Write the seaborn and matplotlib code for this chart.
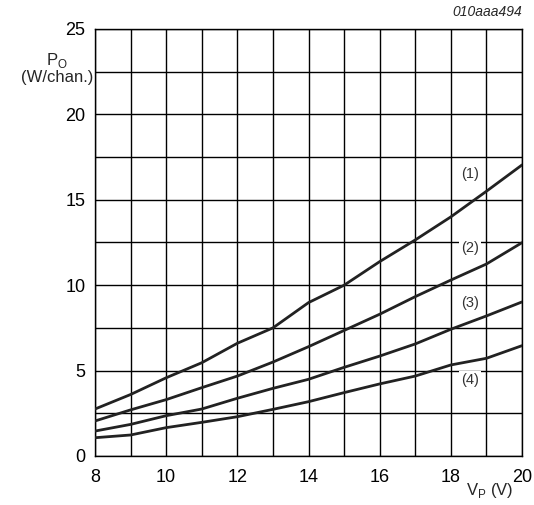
import numpy as np
import pandas as pd
import seaborn as sns
import matplotlib.pyplot as plt

# supply voltage (V)
vp = [8, 9, 10, 11, 12, 13, 14, 15, 16, 17, 18, 19, 20]
# output power per channel (W) for the four curves
po_1 = [2.75, 3.6, 4.58, 5.46, 6.6, 7.5, 8.98, 10.0, 11.38, 12.65, 14.0, 15.5, 17.04]
po_2 = [2.05, 2.7, 3.3, 4.0, 4.68, 5.5, 6.4, 7.35, 8.3, 9.33, 10.3, 11.24, 12.49]
po_3 = [1.46, 1.85, 2.36, 2.75, 3.38, 3.96, 4.49, 5.19, 5.85, 6.56, 7.42, 8.2, 9.02]
po_4 = [1.07, 1.23, 1.66, 1.97, 2.3, 2.73, 3.18, 3.71, 4.22, 4.68, 5.33, 5.72, 6.46]
curve_names = ["(1)", "(2)", "(3)", "(4)"]
label_pos = [(18.55, 16.5), (18.55, 12.2), (18.55, 8.95), (18.55, 4.45)]

df = pd.DataFrame({
    "Vp": vp * 4,
    "Po": po_1 + po_2 + po_3 + po_4,
    "curve": sum([[n] * len(vp) for n in curve_names], []),
})

sns.set_style("white")
plt.rcParams["font.family"] = ["Liberation Sans", "DejaVu Sans"]
plt.rcParams["mathtext.fontset"] = "custom"
plt.rcParams["mathtext.rm"] = "Liberation Sans"

fig = plt.figure(figsize=(5.34, 5.05), dpi=100)
ax = fig.add_axes([95 / 534, 1 - 456 / 505, 427 / 534, 427 / 505])

sns.lineplot(data=df, x="Vp", y="Po", hue="curve", palette=["#222222"] * 4,
             linewidth=2.0, legend=False, ax=ax, zorder=3)

ax.set_xlim(8, 20)
ax.set_ylim(0, 25)
ax.set_xticks(np.arange(8, 21, 1), minor=True)
ax.set_xticks(np.arange(8, 21, 2))
ax.set_yticks(np.arange(0, 25.1, 2.5), minor=True)
ax.set_yticks(np.arange(0, 25.1, 5))
ax.grid(True, which="both", color="black", linewidth=1.0)
ax.tick_params(which="both", length=0, labelsize=13, colors="black")
ax.tick_params(axis="x", pad=9)
ax.tick_params(axis="y", pad=7)
for s in ax.spines.values():
    s.set_color("black")
    s.set_linewidth(1.0)
ax.set_xlabel("")
ax.set_ylabel("")

for name, (x, y) in zip(curve_names, label_pos):
    ax.text(x, y, name, fontsize=10.5, color="#333333", ha="center", va="center",
            zorder=4, bbox=dict(facecolor="white", edgecolor="none", pad=1.5))

fig.text(57 / 534, 1 - 68 / 505, "P$_\\mathrm{O}$\n(W/chan.)", fontsize=12,
         ha="center", va="center", linespacing=1.0)
fig.text(490 / 534, 1 - 490 / 505, "V$_\\mathrm{P}$ (V)", fontsize=12,
         ha="center", va="center")
fig.text(522 / 534, 1 - 12 / 505, "010aaa494", fontsize=10, style="italic",
         ha="right", va="center")

plt.savefig("out.png", dpi=100)
